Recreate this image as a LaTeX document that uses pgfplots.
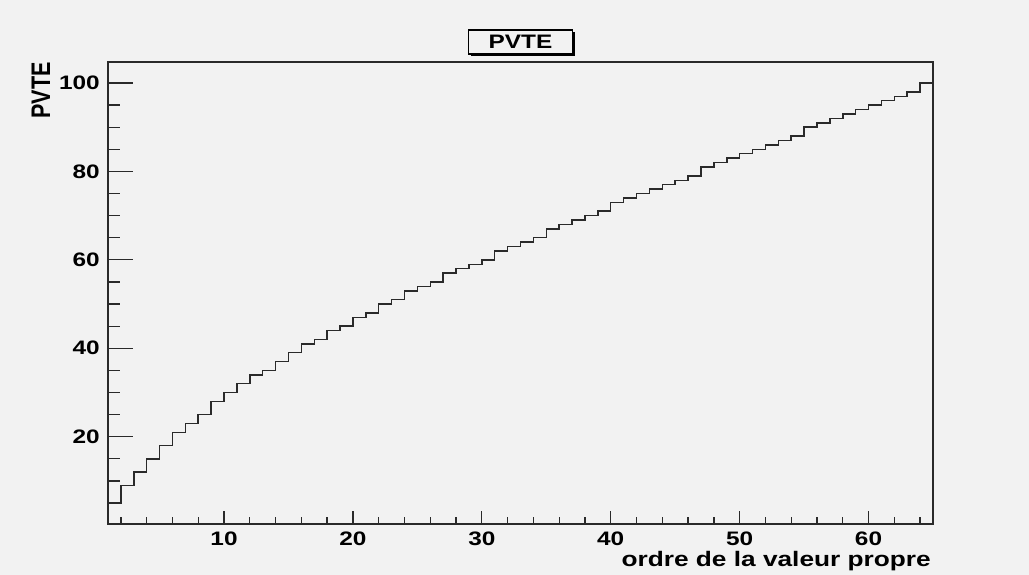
\documentclass[border=0pt]{standalone}
\usepackage{pgfplots}
\pgfplotsset{compat=1.18}
\usepackage{fontspec}
\setmainfont{Liberation Sans}
\usetikzlibrary{shadows}
\definecolor{bg}{HTML}{F2F2F2}
\definecolor{ln}{HTML}{2A2A2A}
\newcommand\sx[1]{\scalebox{1.25}[1]{#1}}
\pgfplotstableread{
x y
1 5
2 9
3 12
4 15
5 18
6 21
7 23
8 25
9 28
10 30
11 32
12 34
13 35
14 37
15 39
16 41
17 42
18 44
19 45
20 47
21 48
22 50
23 51
24 53
25 54
26 55
27 57
28 58
29 59
30 60
31 62
32 63
33 64
34 65
35 67
36 68
37 69
38 70
39 71
40 73
41 74
42 75
43 76
44 77
45 78
46 79
47 81
48 82
49 83
50 84
51 85
52 86
53 87
54 88
55 90
56 91
57 92
58 93
59 94
60 95
61 96
62 97
63 98
64 100
65 100
}\pvte
\begin{document}
\begin{tikzpicture}[x=1pt,y=1pt]
\fill[bg] (0,0) rectangle (1029,575);
\useasboundingbox (0,0) rectangle (1029,575);
\begin{axis}[
  at={(108pt,51pt)}, anchor=south west,
  scale only axis, width=825pt, height=462pt,
  xmin=1, xmax=65, ymin=0.25, ymax=104.75,
  axis background/.style={fill=bg},
  axis line style={ln, line width=1.3pt},
  font=\fontsize{19.5}{22}\selectfont\bfseries,
  tick align=inside, tick pos=left,
  xtick={10,20,30,40,50,60},
  xticklabels={\sx{10},\sx{20},\sx{30},\sx{40},\sx{50},\sx{60}},
  minor xtick={2,4,...,64},
  ytick={20,40,60,80,100},
  yticklabels={\sx{20},\sx{40},\sx{60},\sx{80},\sx{100}},
  minor ytick={5,10,...,100},
  tick style={ln, line width=1.3pt},
  major tick length=13pt, minor tick length=6.7pt,
  every major y tick/.append style={/pgfplots/major tick length=25pt},
  every minor y tick/.append style={/pgfplots/minor tick length=12.3pt},
  xticklabel style={anchor=north, inner sep=0pt, yshift=-8pt},
  yticklabel style={anchor=east, inner sep=0pt, xshift=-8pt},
  title={\sx{PVTE}},
  title style={at={(axis description cs:0.5,1)}, anchor=center, yshift=14pt,
    draw=black, fill=bg, line width=1.2pt, minimum width=104pt, minimum height=24pt,
    inner sep=0pt,
    drop shadow={shadow xshift=2.5pt, shadow yshift=-2.5pt, fill=black, opacity=1}},
  xlabel={\fontsize{21}{24}\selectfont\sx{ordre de la valeur propre}},
  xlabel style={at={(axis description cs:1,0)}, anchor=base east, yshift=-43pt, xshift=-2pt, inner sep=0pt},
  ylabel={\fontsize{21.5}{24}\selectfont\sx{\rotatebox{90}{PVTE}}},
  every axis y label/.style={at={(axis description cs:-0.0812,1)}, anchor=north, inner sep=0pt},
]
\addplot[const plot, ln, line width=1.5pt] table[x=x,y=y] {\pvte};
\end{axis}
\end{tikzpicture}
\end{document}
